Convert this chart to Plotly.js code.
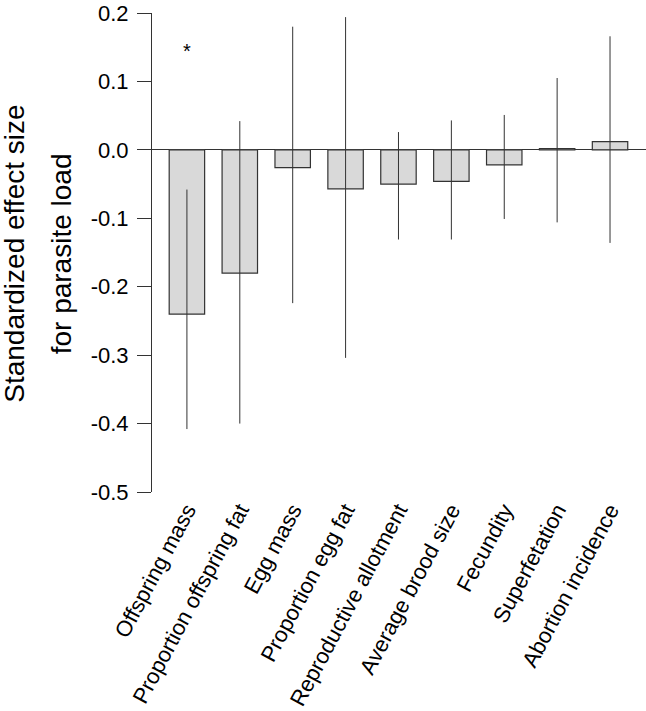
<!DOCTYPE html>
<html>
<head>
<meta charset="utf-8">
<script src="https://cdn.plot.ly/plotly-3.0.1.min.js"></script>
<style>html,body{margin:0;padding:0;background:#fff;}#chart{width:646px;height:711px;}</style>
</head>
<body>
<div id="chart"></div>
<script>
var categories = ['Offspring mass','Proportion offspring fat','Egg mass','Proportion egg fat','Reproductive allotment','Average brood size','Fecundity','Superfetation','Abortion incidence'];
var effectSize = [-0.240, -0.180, -0.026, -0.057, -0.050, -0.046, -0.022, 0.002, 0.012];
var upperCI = [-0.058, 0.042, 0.180, 0.194, 0.026, 0.043, 0.051, 0.105, 0.166];
var lowerCI = [-0.408, -0.400, -0.224, -0.304, -0.131, -0.131, -0.101, -0.106, -0.136];
var tickVals = [-0.5, -0.4, -0.3, -0.2, -0.1, 0.0, 0.1, 0.2];
var tickLabels = ['-0.5', '-0.4', '-0.3', '-0.2', '-0.1', '0.0', '0.1', '0.2'];
var yTitleLines = ['Standardized effect size', 'for parasite load'];
var sigCategory = 'Offspring mass';
var sigMarkY = 0.144;

var errPlus = upperCI.map(function(u, i){ return u - effectSize[i]; });
var errMinus = lowerCI.map(function(l, i){ return effectSize[i] - l; });

var trace = {
  type: 'bar',
  x: categories,
  y: effectSize,
  width: 0.67,
  marker: {color: '#d9d9d9', line: {color: '#333333', width: 1.2}},
  error_y: {type: 'data', symmetric: false, array: errPlus, arrayminus: errMinus, width: 0, thickness: 1, color: '#333333'},
  hoverinfo: 'x+y'
};

var layout = {
  width: 646, height: 711,
  margin: {l: 152, r: 0, t: 13, b: 219},
  paper_bgcolor: '#fff', plot_bgcolor: '#fff',
  font: {family: 'Liberation Sans, Arial, sans-serif', color: '#000'},
  showlegend: false,
  xaxis: {
    type: 'category',
    range: [-0.66, 8.68],
    showline: false, showgrid: false, zeroline: false, ticks: '',
    tickangle: -62,
    tickfont: {size: 22, color: '#000'}
  },
  yaxis: {
    range: [-0.5, 0.2],
    tickvals: tickVals, ticktext: tickLabels,
    ticks: 'outside', ticklen: 14, tickwidth: 1, tickcolor: '#333',
    showline: true, linecolor: '#333', linewidth: 1,
    showgrid: false,
    zeroline: true, zerolinecolor: '#333', zerolinewidth: 1,
    tickfont: {size: 22, color: '#000'},
    ticklabelstandoff: 4
  },
  annotations: [
    {
      x: sigCategory, y: sigMarkY, xref: 'x', yref: 'y',
      text: '*', showarrow: false, font: {size: 20, color: '#000'},
      xanchor: 'center', yanchor: 'middle'
    },
    {
      x: -0.2787, y: 0.498, xref: 'paper', yref: 'paper',
      text: yTitleLines[0], textangle: -90, showarrow: false,
      font: {size: 28, color: '#000'}, xanchor: 'center', yanchor: 'middle'
    },
    {
      x: -0.1825, y: 0.498, xref: 'paper', yref: 'paper',
      text: yTitleLines[1], textangle: -90, showarrow: false,
      font: {size: 28, color: '#000'}, xanchor: 'center', yanchor: 'middle'
    }
  ]
};

Plotly.newPlot('chart', [trace], layout, {displayModeBar: false, staticPlot: true});
</script>
</body>
</html>
